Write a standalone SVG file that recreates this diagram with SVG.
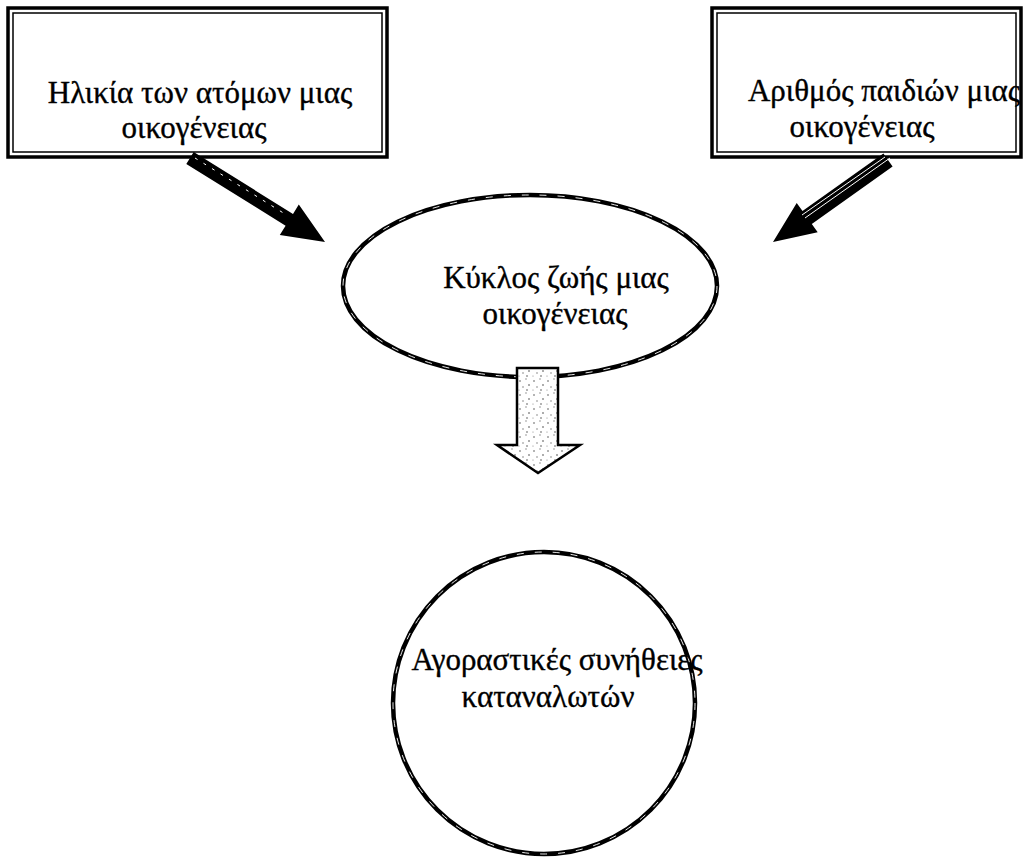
<svg xmlns="http://www.w3.org/2000/svg" width="1024" height="857" viewBox="0 0 1024 857">
<style>
.t{font-family:"Liberation Serif","Times New Roman",serif;font-size:31px;fill:#000;stroke:#000;stroke-width:0.35;text-anchor:middle}
.outer{fill:none;stroke:#000;stroke-width:3.5}
.inner{fill:none;stroke:#000;stroke-width:1.5}
.ring{fill:none;stroke:#000;stroke-width:4.5}
.ringhl{fill:none;stroke:#fff;stroke-width:0.9;stroke-dasharray:7 11}
</style>
<defs>
<pattern id="speck" width="14" height="14" patternUnits="userSpaceOnUse">
<rect width="14" height="14" fill="#fff"/>
<circle cx="2" cy="3" r="0.8" fill="#555"/>
<circle cx="8" cy="1" r="0.7" fill="#777"/>
<circle cx="11" cy="7" r="0.8" fill="#444"/>
<circle cx="5" cy="9" r="0.7" fill="#666"/>
<circle cx="1" cy="12" r="0.6" fill="#888"/>
<circle cx="9" cy="12" r="0.8" fill="#555"/>
</pattern>
</defs>
<rect width="1024" height="857" fill="#fff"/>
<g id="node-age">
<rect class="outer" x="8" y="8" width="379" height="149"/>
<rect class="inner" x="13" y="13" width="369" height="139"/>
<text class="t" x="200" y="103">Ηλικία των ατόμων μιας</text>
<text class="t" x="194" y="138">οικογένειας</text>
</g>
<g id="node-children">
<rect class="outer" x="712" y="8" width="309" height="149"/>
<rect class="inner" x="717" y="13" width="299" height="139"/>
<text class="t" x="884" y="101">Αριθμός παιδιών μιας</text>
<text class="t" x="862" y="137">οικογένειας</text>
</g>
<g id="node-lifecycle">
<ellipse class="ring" cx="530" cy="286" rx="187" ry="91"/>
<ellipse class="ringhl" cx="530" cy="286" rx="187" ry="91"/>
<text class="t" x="556" y="288">Κύκλος ζωής μιας</text>
<text class="t" x="555" y="324">οικογένειας</text>
</g>
<g id="node-habits">
<circle class="ring" cx="544" cy="703" r="151"/>
<circle class="ringhl" cx="544" cy="703" r="151"/>
<text class="t" x="557" y="670">Αγοραστικές συνήθειες</text>
<text class="t" x="548" y="707">καταναλωτών</text>
</g>
<g id="connectors">
<polygon points="186.3,163.9 193.7,152.1 293,213.9 298.8,204.5 325,242 279.8,235.1 285.6,225.7" fill="#000"/>
<line x1="195" y1="158" x2="285" y2="214" stroke="#fff" stroke-width="1" stroke-dasharray="3 7"/>
<polygon points="892.6,166.5 883.4,153.5 802.5,211.1 796.7,202.9 773,242 817.7,232.3 811.8,224.1" fill="#000"/>
<line x1="890" y1="158" x2="805" y2="218" stroke="#fff" stroke-width="1"/>
<line x1="885" y1="157" x2="802" y2="215" stroke="#fff" stroke-width="1"/>
<polygon points="517,368 558,368 558,445 580,445 538,473 497,445 517,445" fill="url(#speck)" stroke="#000" stroke-width="2.5" stroke-linejoin="miter"/>
</g>
</svg>
